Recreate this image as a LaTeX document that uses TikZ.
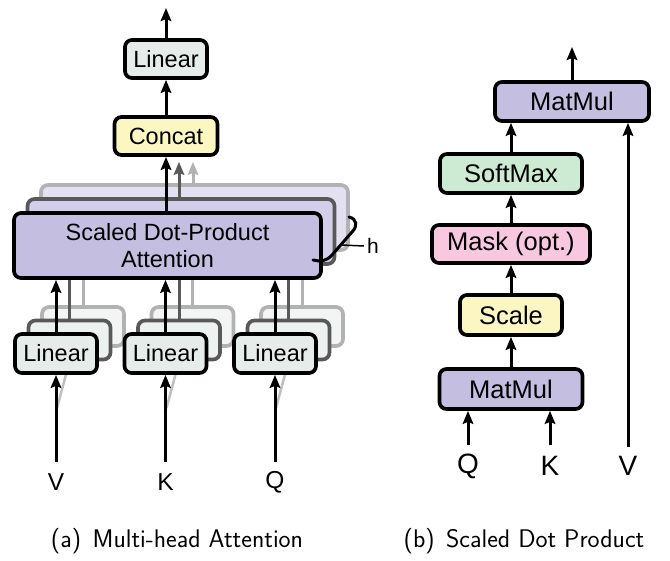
\documentclass[tikz,border=0pt]{standalone}
\usepackage{fontspec}
\setmainfont{Liberation Sans}
\usetikzlibrary{arrows.meta}
\definecolor{lingray}{HTML}{E6ECEA}
\definecolor{lingrayB}{HTML}{EDF1EF}
\definecolor{lingrayC}{HTML}{F3F5F4}
\definecolor{yellowc}{HTML}{FBF6C2}
\definecolor{purplec}{HTML}{C4BEE0}
\definecolor{purpleB}{HTML}{D3CEEA}
\definecolor{purpleC}{HTML}{E3E0F1}
\definecolor{greenc}{HTML}{CDEBD3}
\definecolor{pinkc}{HTML}{F7C8DF}
\newcommand\figfontL{\fontsize{23.5}{27.5}\selectfont}
\newcommand\figfontR{\fontsize{25.5}{30}\selectfont}
\newcommand\capfont{\sffamily\fontsize{25.5}{30}\selectfont}
\tikzset{
  box/.style={draw=black, line width=3.7pt, rounded corners=7pt, inner sep=0pt, align=center},
  lbox/.style={box, font=\figfontL},
  rbox/.style={box, font=\figfontR},
  linbox/.style={lbox, fill=lingray, minimum width=82pt, minimum height=39pt},
  linboxB/.style={linbox, fill=lingrayB, draw=black!65},
  linboxC/.style={linbox, fill=lingrayC, draw=black!30},
  sdpabox/.style={lbox, fill=purplec, minimum width=307pt, minimum height=65pt},
  arr/.style={line width=3pt, -{Stealth[length=13pt,width=10.5pt,inset=2pt]}},
  shline/.style={line width=3pt},
  lbl/.style={inner sep=1pt},
}
\begin{document}
\begin{tikzpicture}[x=1pt,y=-1pt]
\useasboundingbox (0,0) rectangle (670,561);

% ---------- left: multi-head attention ----------
\node[lbox, fill=lingray, minimum width=82pt, minimum height=38pt] (lintop) at (166,59) {Linear};
\node[lbox, fill=yellowc, minimum width=103pt, minimum height=38pt] (concat) at (166,136) {Concat};
\coordinate (outL) at (166,8);

% shadow copies of attention
\node[sdpabox, fill=purpleC, draw=black!30] (sdpaC) at (194.5,217.5) {};
\draw[arr, draw=black!30, shorten >=5pt] ([xshift=27pt]concat.south |- sdpaC.north) -- ([xshift=27pt]concat.south);
\node[sdpabox, fill=purpleB, draw=black!65] (sdpaB) at (181,231.5) {};
\draw[arr, draw=black!65, shorten >=5pt] ([xshift=13pt]concat.south |- sdpaB.north) -- ([xshift=13pt]concat.south);

% shadow linears (back)
\node[linboxC] (l1C) at (83,326.5) {};
\node[linboxC] (l2C) at (192.5,326.5) {};
\node[linboxC] (l3C) at (302,326.5) {};
\foreach \n in {l1C,l2C,l3C}{\draw[shline, draw=black!30] (\n.north) -- (\n.north |- sdpaC.south);}
% shadow linears (middle)
\node[linboxB] (l1B) at (69.5,340) {};
\node[linboxB] (l2B) at (179,340) {};
\node[linboxB] (l3B) at (288.5,340) {};
\foreach \n in {l1B,l2B,l3B}{\draw[shline, draw=black!65] (\n.north) -- (\n.north |- sdpaB.south);}

% front attention
\node[sdpabox] (sdpa) at (167.5,245.5) {Scaled Dot-Product\\Attention};

% inputs
\coordinate (vin) at (56,462);
\coordinate (kin) at (165.5,462);
\coordinate (qin) at (275,462);
\coordinate (vs) at (57,408);
\coordinate (ks) at (166.5,408);
\coordinate (qs) at (276,408);
\node[lbl, font=\fontsize{24.5}{28}\selectfont] (vl) at (56,482) {V};
\node[lbl, font=\fontsize{24.5}{28}\selectfont] (kl) at (165.5,482) {K};
\node[lbl, font=\fontsize{24.5}{28}\selectfont] (ql) at (275,482) {Q};

% faint shadow inputs (covered by front boxes)
\draw[line width=2.5pt, draw=black!25] (vs) -- (l1B.south);
\draw[line width=2.5pt, draw=black!25] (ks) -- (l2B.south);
\draw[line width=2.5pt, draw=black!25] (qs) -- (l3B.south);

% front linears
\node[linbox] (l1) at (56,353.5) {Linear};
\node[linbox] (l2) at (165.5,353.5) {Linear};
\node[linbox] (l3) at (275,353.5) {Linear};

\draw[arr] (vin) -- (l1);
\draw[arr] (kin) -- (l2);
\draw[arr] (qin) -- (l3);
\draw[arr] (l1) -- (l1 |- sdpa.south);
\draw[arr] (l2) -- (l2 |- sdpa.south);
\draw[arr] (l3) -- (l3 |- sdpa.south);
\draw[arr] (concat.south |- sdpa.north) -- (concat.south);
\draw[arr] (concat) -- (lintop);
\draw[arr] (lintop) -- (outL);

% brace and h
\draw[line width=3pt, line cap=round] (349,217) .. controls (357,219) and (358,226) .. (352,232) -- (332,255) .. controls (327,261) and (320,262) .. (313,260);
\coordinate (bm) at (341,245);
\node[lbl, font=\fontsize{21}{25}\selectfont, inner sep=3pt] (hl) at (373,246) {h};
\draw[line width=1.5pt] (bm) -- (hl.west);

% ---------- right: scaled dot product ----------
\node[rbox, fill=purplec, minimum width=154pt, minimum height=39pt] (mm2) at (572,101.5) {MatMul};
\node[rbox, fill=greenc, minimum width=142pt, minimum height=39pt] (sm) at (511,173.5) {SoftMax};
\node[rbox, fill=pinkc, minimum width=158pt, minimum height=38pt] (mask) at (511,244) {Mask (opt.)};
\node[rbox, fill=yellowc, minimum width=102pt, minimum height=40pt] (scale) at (511,315) {Scale};
\node[rbox, fill=purplec, minimum width=143pt, minimum height=40pt] (mm1) at (511,389) {MatMul};
\coordinate (outR) at (572,47);
\coordinate (qr) at (468,445);
\coordinate (kr) at (550,445);
\coordinate (vr) at (628,447);
\node[lbl, font=\fontsize{28}{32}\selectfont] (qrl) at (468,466) {Q};
\node[lbl, font=\fontsize{28}{32}\selectfont] (krl) at (550,466) {K};
\node[lbl, font=\fontsize{28}{32}\selectfont] (vrl) at (628,466) {V};

\draw[arr] (qr) -- (qr |- mm1.south);
\draw[arr] (kr) -- (kr |- mm1.south);
\draw[arr] (mm1) -- (scale);
\draw[arr] (scale) -- (mask);
\draw[arr] (mask) -- (sm);
\draw[arr] (sm.north) -- (sm.north |- mm2.south);
\draw[arr] (vr) -- (vr |- mm2.south);
\draw[arr] (mm2) -- (outR);

% captions
\node[font=\capfont] (capa) at (177,541) {(a)\hspace{0.45em}Multi-head Attention};
\node[font=\capfont] (capb) at (524,541) {(b)\hspace{0.45em}Scaled Dot Product};
\end{tikzpicture}
\end{document}
